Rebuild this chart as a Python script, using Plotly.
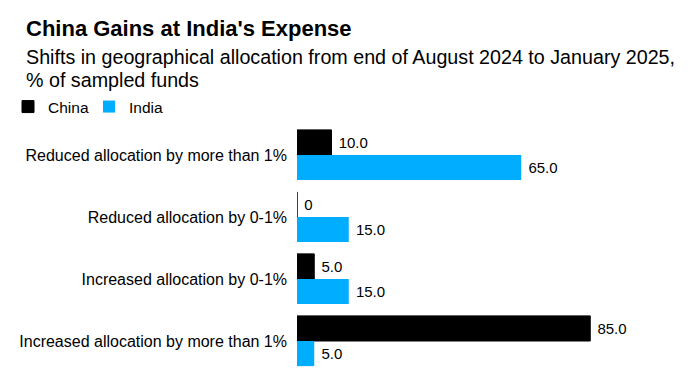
import plotly.graph_objects as go

categories = [
    "Reduced allocation by more than 1%",
    "Reduced allocation by 0-1%",
    "Increased allocation by 0-1%",
    "Increased allocation by more than 1%",
]
china = [10.0, 0, 5.0, 85.0]
india = [65.0, 15.0, 15.0, 5.0]
china_labels = ["10.0", "0", "5.0", "85.0"]
india_labels = ["65.0", "15.0", "15.0", "5.0"]

W, H = 688, 386
OFF = 8  # page body margin offset
L, T = 297 - OFF, 124 - OFF
pw, ph = 345, 248
R = W - L - pw
B = H - T - ph

def px_x(x):
    return (x - OFF - L) / pw

def px_y(y):
    return 1 + (T - (y - OFF)) / ph

FONT = "Liberation Sans, Arial, sans-serif"

fig = go.Figure()
fig.add_trace(go.Bar(
    y=categories, x=china, name="China", orientation="h",
    marker=dict(color="#000000", line=dict(color="#000000", width=1)),
    text=[" " + t for t in china_labels], textposition="outside",
    textfont=dict(size=15, color="#000000", family=FONT), cliponaxis=False,
))
fig.add_trace(go.Bar(
    y=categories, x=india, name="India", orientation="h",
    marker=dict(color="#00ADFF", line=dict(width=0)),
    text=[" " + t for t in india_labels], textposition="outside",
    textfont=dict(size=15, color="#000000", family=FONT), cliponaxis=False,
))

fig.update_layout(
    width=W, height=H,
    margin=dict(l=L, r=R, t=T, b=B, autoexpand=False),
    paper_bgcolor="white", plot_bgcolor="white",
    barmode="group", bargap=0.19, bargroupgap=0,
    font=dict(family=FONT, color="#000000"),
    showlegend=True,
    legend=dict(
        orientation="h", xref="container", yref="container",
        x=(8 - OFF) / W, y=1 - (107 - OFF) / H, xanchor="left", yanchor="middle",
        font=dict(size=15.5, family=FONT), itemwidth=30, entrywidth=36,
        traceorder="normal", bgcolor="rgba(0,0,0,0)",
    ),
    xaxis=dict(range=[0, 100], visible=False, fixedrange=True, automargin=False),
    yaxis=dict(
        autorange="reversed", showgrid=False, zeroline=False, showline=False,
        ticks="", ticklabelstandoff=9, automargin=False,
        tickfont=dict(size=16, family=FONT, color="#000000"),
    ),
    annotations=[
        dict(text="<b>China Gains at India's Expense</b>", xref="paper", yref="paper",
             x=px_x(24), y=px_y(28.5), xanchor="left", yanchor="middle", showarrow=False,
             font=dict(size=22, family=FONT, color="#000000")),
        dict(text="Shifts in geographical allocation from end of August 2024 to January 2025,",
             xref="paper", yref="paper", x=px_x(24), y=px_y(57), xanchor="left",
             yanchor="middle", showarrow=False,
             font=dict(size=19.7, family=FONT, color="#000000")),
        dict(text="% of sampled funds",
             xref="paper", yref="paper", x=px_x(24), y=px_y(79.5), xanchor="left",
             yanchor="middle", showarrow=False,
             font=dict(size=19.7, family=FONT, color="#000000")),
    ],
)

fig.write_html("out.html")
